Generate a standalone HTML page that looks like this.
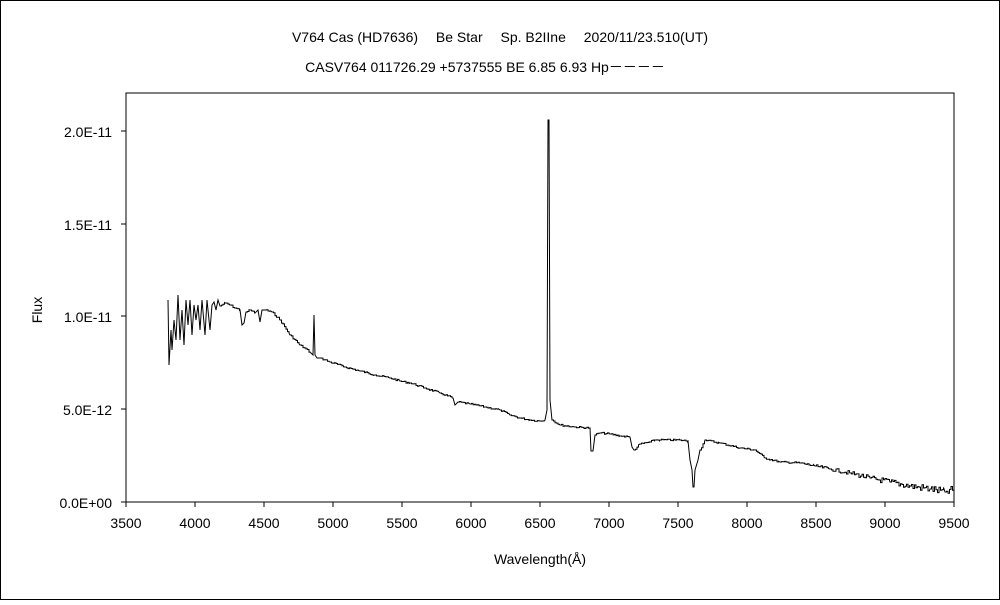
<!DOCTYPE html>
<html><head><meta charset="utf-8"><style>
html,body{margin:0;padding:0;background:#fff;}
svg text{font-family:"Liberation Sans","Noto Sans CJK JP",sans-serif;fill:#000;}
</style></head><body>
<svg id="s" width="1000" height="600" viewBox="0 0 1000 600" xmlns="http://www.w3.org/2000/svg">
<rect x="0.5" y="0.5" width="999" height="599" fill="#fff" stroke="#000"/>
<text x="500" y="42" font-size="14" text-anchor="middle">V764 Cas (HD7636)　 Be Star　 Sp. B2IIne　 2020/11/23.510(UT)</text>
<text x="485" y="72" font-size="14" text-anchor="middle">CASV764 011726.29 +5737555 BE 6.85 6.93 Hp－－－－</text>
<rect x="126" y="93" width="828" height="409" fill="none" stroke="#000" stroke-width="1"/>
<g font-size="14" text-anchor="end">
<text x="112" y="508">0.0E+00</text><text x="112" y="415">5.0E-12</text><text x="112" y="322">1.0E-11</text><text x="112" y="230">1.5E-11</text><text x="112" y="137">2.0E-11</text>
</g>
<g stroke="#000"><line x1="121" y1="502" x2="126" y2="502"/><line x1="121" y1="409" x2="126" y2="409"/><line x1="121" y1="316" x2="126" y2="316"/><line x1="121" y1="224" x2="126" y2="224"/><line x1="121" y1="131" x2="126" y2="131"/></g>
<g id="xt" font-size="14" text-anchor="middle"></g>
<text x="42" y="310" font-size="14" text-anchor="middle" transform="rotate(-90 42 310)">Flux</text>
<text x="540" y="564" font-size="14" text-anchor="middle">Wavelength(Å)</text>
<polyline id="p" fill="none" stroke="#000" stroke-width="1" points=""/>
</svg>
<script>
var xt=document.getElementById('xt'),s='';
for(var i=0;i<=12;i++){var w=3500+i*500,x=126+i*69;s+='<text x="'+x+'" y="528">'+w+'</text><line x1="'+x+'" y1="502" x2="'+x+'" y2="507" stroke="#000"/>';}
xt.innerHTML=s;
var a=[168,300,169,365,171,330,172,350,174,320,176,340,178,295,180,340,182,310,184,345,186,300,188,325,190,300,192,335,194,305,196,320,198,305,200,330,202,300,205,335,207,300,210,330,212,305,214,302,216,310,218,300,220,306,225,303,230,305,235,308,240,310,242,325,244,323,246,312,250,310,255,313,258,310,260,322,262,310,265,310,272,312,280,320,290,335,300,345,310,352,313,355,314,315,315,355,317,358,320,358,330,362,345,367,360,371,375,375,390,378,400,381,410,383,425,388,440,393,453,398,455,405,458,402,470,404,485,407,500,410,510,415,520,418,530,420,540,421,545,420,547,410,548,120,549,120,550,400,552,420,560,425,575,427,590,428,591,451,593,451,595,435,600,433,610,434,620,436,630,437,632,447,634,450,640,444,650,442,655,440,660,440,680,440,688,441,690,460,692,470,693,487,694,487,695,470,698,460,700,450,705,440,720,443,740,448,755,450,765,458,780,462,800,463,815,466,830,469,850,473,870,478,890,482,910,486,930,489,945,492,954,490];
var seed=7;function r(){seed=(seed*9301+49297)%233280;return seed/233280-0.5;}
var pts=[];
for(var k=0;k<a.length-2;k+=2){var x0=a[k],y0=a[k+1],x1=a[k+2],y1=a[k+3];pts.push(x0+','+y0);
 if(x1-x0>3){var py=y0;for(var x=x0+1.5;x<x1;x+=1.5){var y=y0+(y1-y0)*(x-x0)/(x1-x0);var amp=x>800?(x-800)/22+2:1.8;var ny=(y+r()*amp).toFixed(1);pts.push(x.toFixed(1)+','+py);pts.push(x.toFixed(1)+','+ny);py=ny;}}}
pts.push('954,490');
document.getElementById('p').setAttribute('points',pts.join(' '));
</script>
</body></html>
